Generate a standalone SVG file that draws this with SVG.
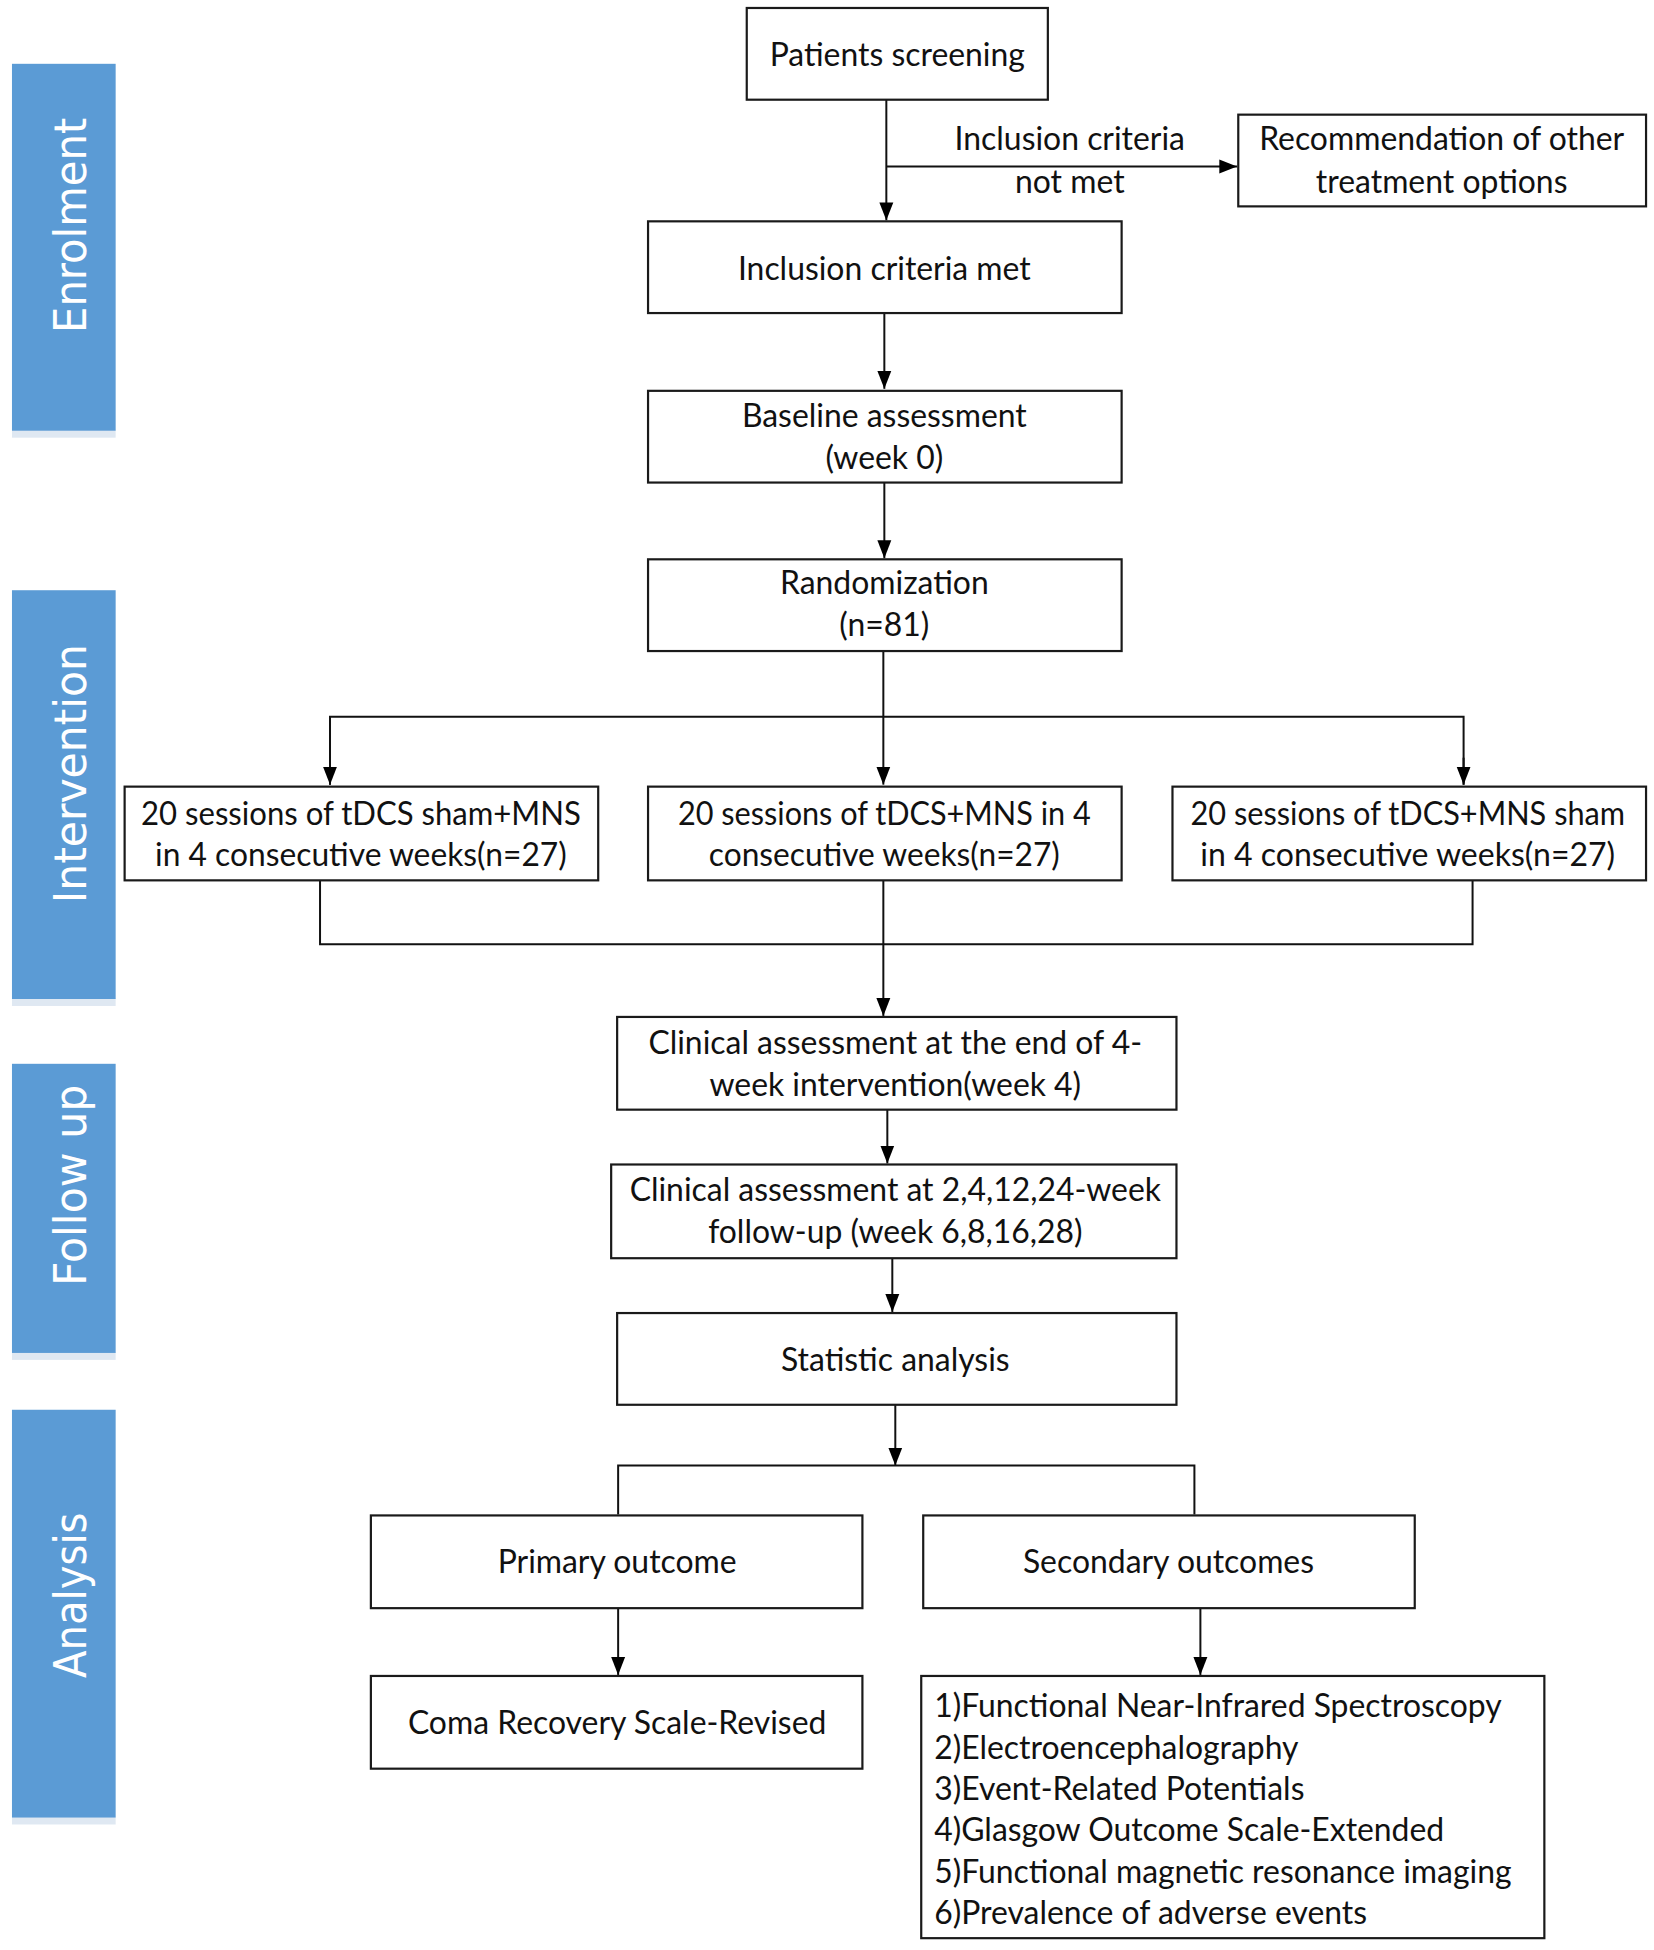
<svg xmlns="http://www.w3.org/2000/svg" width="1654" height="1950" viewBox="0 0 1654 1950">
<defs>
<style>
.box{fill:#ffffff;stroke:#1a1a1a;stroke-width:2.2}
.t{font-family:Lato,"Open Sans","Liberation Sans",sans-serif;font-size:32px;fill:#111111;text-anchor:middle}
.tl{font-family:Lato,"Open Sans","Liberation Sans",sans-serif;font-size:32px;fill:#111111;text-anchor:start}
.bar{fill:#5B9BD5}
.barsh{fill:#c9d9ea;opacity:0.6}
.bt{font-family:"DejaVu Sans","Open Sans",sans-serif;font-size:44px;fill:#ffffff;text-anchor:middle}
.ln{fill:none;stroke:#111111;stroke-width:2}
</style>
<marker id="ah" markerWidth="18" markerHeight="16" viewBox="0 0 18 16" refX="18" refY="8" orient="auto" markerUnits="userSpaceOnUse">
<path d="M0,1 L18,8 L0,15 Z" fill="#000"/>
</marker>
</defs>
<rect width="1654" height="1950" fill="#ffffff"/>
<g transform="scale(0.997)">
<g id="phase-enrolment">
<rect class="barsh" x="12" y="431" width="104" height="8"/>
<rect class="bar" x="12" y="64" width="104" height="368"/>
<text class="bt" transform="translate(86,226) rotate(-90)" textLength="216" lengthAdjust="spacingAndGlyphs">Enrolment</text>
</g>
<g id="phase-intervention">
<rect class="barsh" x="12" y="1001" width="104" height="8"/>
<rect class="bar" x="12" y="592" width="104" height="410"/>
<text class="bt" transform="translate(86,776) rotate(-90)" textLength="260" lengthAdjust="spacingAndGlyphs">Intervention</text>
</g>
<g id="phase-followup">
<rect class="barsh" x="12" y="1356" width="104" height="8"/>
<rect class="bar" x="12" y="1067" width="104" height="290"/>
<text class="bt" transform="translate(86,1189) rotate(-90)" textLength="202" lengthAdjust="spacingAndGlyphs">Follow up</text>
</g>
<g id="phase-analysis">
<rect class="barsh" x="12" y="1822" width="104" height="8"/>
<rect class="bar" x="12" y="1414" width="104" height="409"/>
<text class="bt" transform="translate(86,1600) rotate(-90)" textLength="166" lengthAdjust="spacingAndGlyphs">Analysis</text>
</g>

<g id="connectors">
<line class="ln" x1="889" y1="100" x2="889" y2="221" marker-end="url(#ah)"/>
<line class="ln" x1="889" y1="167" x2="1241" y2="167" marker-end="url(#ah)"/>
<line class="ln" x1="887" y1="314" x2="887" y2="390" marker-end="url(#ah)"/>
<line class="ln" x1="887" y1="484" x2="887" y2="560" marker-end="url(#ah)"/>
<line class="ln" x1="886" y1="653" x2="886" y2="787" marker-end="url(#ah)"/>
<polyline class="ln" points="331,787 331,719 1468,719 1468,787"/>
<line class="ln" x1="331" y1="760" x2="331" y2="787" marker-end="url(#ah)"/>
<line class="ln" x1="1468" y1="760" x2="1468" y2="787" marker-end="url(#ah)"/>
<polyline class="ln" points="321,883 321,947 1477,947 1477,883"/>
<line class="ln" x1="886" y1="883" x2="886" y2="1019" marker-end="url(#ah)"/>
<line class="ln" x1="890" y1="1113" x2="890" y2="1167" marker-end="url(#ah)"/>
<line class="ln" x1="895" y1="1262" x2="895" y2="1316" marker-end="url(#ah)"/>
<line class="ln" x1="898" y1="1409" x2="898" y2="1470" marker-end="url(#ah)"/>
<polyline class="ln" points="620,1519 620,1470 1198,1470 1198,1519"/>
<line class="ln" x1="620" y1="1613" x2="620" y2="1680" marker-end="url(#ah)"/>
<line class="ln" x1="1204" y1="1613" x2="1204" y2="1680" marker-end="url(#ah)"/>
<text class="t" x="1073" y="150">Inclusion criteria</text>
<text class="t" x="1073" y="194">not met</text>
</g>

<g id="n-screening">
<rect class="box" x="749" y="8" width="302" height="92"/>
<text class="t" x="900" y="66">Patients screening</text>
</g>
<g id="n-recommendation">
<rect class="box" x="1242" y="115" width="409" height="92"/>
<text class="t" x="1446" y="150">Recommendation of other</text>
<text class="t" x="1446" y="194">treatment options</text>
</g>
<g id="n-inclusion">
<rect class="box" x="650" y="222" width="475" height="92"/>
<text class="t" x="887" y="281">Inclusion criteria met</text>
</g>
<g id="n-baseline">
<rect class="box" x="650" y="392" width="475" height="92"/>
<text class="t" x="887" y="428">Baseline assessment</text>
<text class="t" x="887" y="470">(week 0)</text>
</g>
<g id="n-randomization">
<rect class="box" x="650" y="561" width="475" height="92"/>
<text class="t" x="887" y="596">Randomization</text>
<text class="t" x="887" y="638">(n=81)</text>
</g>
<g id="n-arm1">
<rect class="box" x="125" y="789" width="475" height="94"/>
<text class="t" x="362" y="827" textLength="441" lengthAdjust="spacingAndGlyphs">20 sessions of tDCS sham+MNS</text>
<text class="t" x="362" y="869" textLength="413" lengthAdjust="spacingAndGlyphs">in 4 consecutive weeks(n=27)</text>
</g>
<g id="n-arm2">
<rect class="box" x="650" y="789" width="475" height="94"/>
<text class="t" x="887" y="827" textLength="414" lengthAdjust="spacingAndGlyphs">20 sessions of tDCS+MNS in 4</text>
<text class="t" x="887" y="869" textLength="352" lengthAdjust="spacingAndGlyphs">consecutive weeks(n=27)</text>
</g>
<g id="n-arm3">
<rect class="box" x="1176" y="789" width="475" height="94"/>
<text class="t" x="1412" y="827" textLength="436" lengthAdjust="spacingAndGlyphs">20 sessions of tDCS+MNS sham</text>
<text class="t" x="1412" y="869" textLength="416" lengthAdjust="spacingAndGlyphs">in 4 consecutive weeks(n=27)</text>
</g>
<g id="n-clinical-end">
<rect class="box" x="619" y="1020" width="561" height="93"/>
<text class="t" x="898" y="1057">Clinical assessment at the end of 4-</text>
<text class="t" x="898" y="1099">week intervention(week 4)</text>
</g>
<g id="n-clinical-followup">
<rect class="box" x="613" y="1168" width="567" height="94"/>
<text class="t" x="898" y="1205">Clinical assessment at 2,4,12,24-week</text>
<text class="t" x="898" y="1247">follow-up (week 6,8,16,28)</text>
</g>
<g id="n-statistic">
<rect class="box" x="619" y="1317" width="561" height="92"/>
<text class="t" x="898" y="1375">Statistic analysis</text>
</g>
<g id="n-primary">
<rect class="box" x="372" y="1520" width="493" height="93"/>
<text class="t" x="619" y="1578">Primary outcome</text>
</g>
<g id="n-secondary">
<rect class="box" x="926" y="1520" width="493" height="93"/>
<text class="t" x="1172" y="1578">Secondary outcomes</text>
</g>
<g id="n-crsr">
<rect class="box" x="372" y="1681" width="493" height="93"/>
<text class="t" x="619" y="1739">Coma Recovery Scale-Revised</text>
</g>
<g id="n-secondary-list">
<rect class="box" x="924" y="1681" width="625" height="263"/>
<text class="tl" x="937" y="1722">1)Functional Near-Infrared Spectroscopy</text>
<text class="tl" x="937" y="1764">2)Electroencephalography</text>
<text class="tl" x="937" y="1805">3)Event-Related Potentials</text>
<text class="tl" x="937" y="1847">4)Glasgow Outcome Scale-Extended</text>
<text class="tl" x="937" y="1889">5)Functional magnetic resonance imaging</text>
<text class="tl" x="937" y="1930">6)Prevalence of adverse events</text>
</g>
</g>
</svg>
